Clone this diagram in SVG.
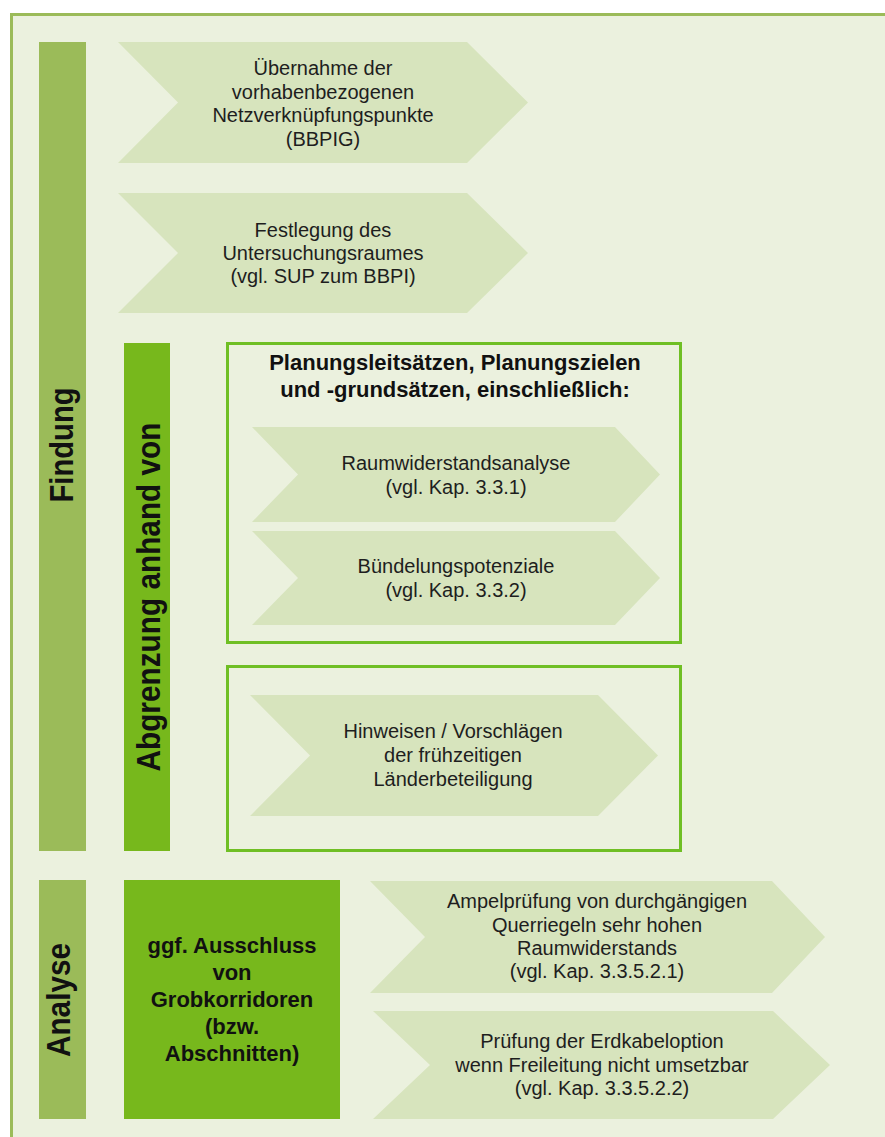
<svg xmlns="http://www.w3.org/2000/svg" width="885" height="1137" viewBox="0 0 885 1137">
<style>
.chev{fill:#d7e4bd}
.t{font-family:"Liberation Sans",Arial,sans-serif;font-size:20px;fill:#1e1e1e;text-anchor:middle}
.tb{font-family:"Liberation Sans",Arial,sans-serif;font-weight:bold;fill:#111;text-anchor:middle}
.olive{fill:#9bbb59}
.bright{fill:#77b81c}
.frame{fill:none;stroke:#6fbf24;stroke-width:3}
</style>
<rect x="0" y="0" width="885" height="1137" fill="#ffffff"/>
<rect id="frame" x="11.5" y="14.5" width="900" height="1140" fill="#ebf1de" stroke="#9bbb59" stroke-width="3"/>

<g id="findung">
<rect class="olive" x="39" y="42" width="47" height="809"/>
<text class="tb" font-size="34" textLength="115" lengthAdjust="spacingAndGlyphs" transform="translate(73,445) rotate(-90)">Findung</text>
</g>

<g id="uebernahme">
<polygon class="chev" points="118,42 467,42 528,102.5 467,163 118,163 178,102.5"/>
<text class="t" x="323" y="75">Übernahme der</text>
<text class="t" x="323" y="98.5">vorhabenbezogenen</text>
<text class="t" x="323" y="122">Netzverknüpfungspunkte</text>
<text class="t" x="323" y="145.5">(BBPIG)</text>
</g>

<g id="festlegung">
<polygon class="chev" points="118,193 467,193 528,253 467,313 118,313 178,253"/>
<text class="t" x="323" y="237">Festlegung des</text>
<text class="t" x="323" y="260">Untersuchungsraumes</text>
<text class="t" x="323" y="283">(vgl. SUP zum BBPI)</text>
</g>

<g id="abgrenzung">
<rect class="bright" x="124" y="343" width="46" height="508"/>
<text class="tb" font-size="34" textLength="349" lengthAdjust="spacingAndGlyphs" transform="translate(159.5,597) rotate(-90)">Abgrenzung anhand von</text>
</g>

<g id="planung">
<rect class="frame" x="227.5" y="343.5" width="453" height="299"/>
<text class="tb" font-size="22" x="455" y="370">Planungsleitsätzen, Planungszielen</text>
<text class="tb" font-size="22" x="455" y="397">und -grundsätzen, einschließlich:</text>
</g>

<g id="raumwiderstand">
<polygon class="chev" points="252,427 615,427 660,474.5 615,522 252,522 298,474.5"/>
<text class="t" x="456" y="470">Raumwiderstandsanalyse</text>
<text class="t" x="456" y="494">(vgl. Kap. 3.3.1)</text>
</g>

<g id="buendelung">
<polygon class="chev" points="252,531 615,531 660,578 615,625 252,625 298,578"/>
<text class="t" x="456" y="573">Bündelungspotenziale</text>
<text class="t" x="456" y="597">(vgl. Kap. 3.3.2)</text>
</g>

<g id="laender">
<rect class="frame" x="227.5" y="666.5" width="453" height="184"/>
<polygon class="chev" points="250,695 598,695 658,755.5 598,816 250,816 310,755.5"/>
<text class="t" x="453" y="738">Hinweisen / Vorschlägen</text>
<text class="t" x="453" y="762">der frühzeitigen</text>
<text class="t" x="453" y="786">Länderbeteiligung</text>
</g>

<g id="analyse">
<rect class="olive" x="39" y="880" width="47" height="239"/>
<text class="tb" font-size="34" textLength="114" lengthAdjust="spacingAndGlyphs" transform="translate(70,1000) rotate(-90)">Analyse</text>
</g>

<g id="ausschluss">
<rect class="bright" x="124" y="880" width="216" height="239"/>
<text class="tb" font-size="22" x="232" y="953">ggf. Ausschluss</text>
<text class="tb" font-size="22" x="232" y="980">von</text>
<text class="tb" font-size="22" x="232" y="1007">Grobkorridoren</text>
<text class="tb" font-size="22" x="232" y="1034">(bzw.</text>
<text class="tb" font-size="22" x="232" y="1061">Abschnitten)</text>
</g>

<g id="ampel">
<polygon class="chev" points="370,881 772,881 825,937 772,993 370,993 425,937"/>
<text class="t" x="597" y="908">Ampelprüfung von durchgängigen</text>
<text class="t" x="597" y="931.5">Querriegeln sehr hohen</text>
<text class="t" x="597" y="955">Raumwiderstands</text>
<text class="t" x="597" y="978">(vgl. Kap. 3.3.5.2.1)</text>
</g>

<g id="erdkabel">
<polygon class="chev" points="373,1011 773,1011 830,1065 773,1119 373,1119 430,1065"/>
<text class="t" x="602" y="1048">Prüfung der Erdkabeloption</text>
<text class="t" x="602" y="1071.5">wenn Freileitung nicht umsetzbar</text>
<text class="t" x="602" y="1095">(vgl. Kap. 3.3.5.2.2)</text>
</g>

<g id="connectors"></g>
</svg>
